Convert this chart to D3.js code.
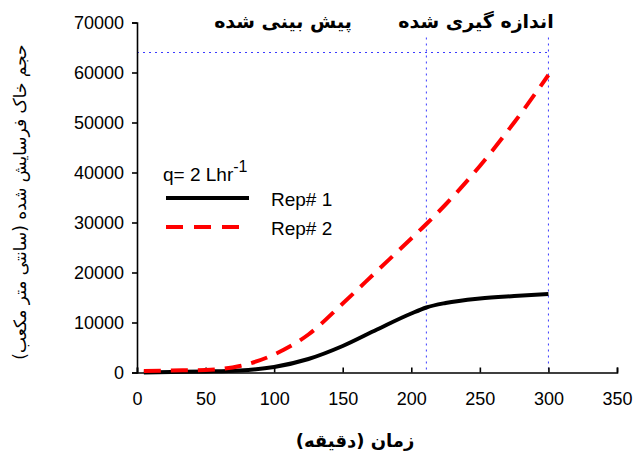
<!DOCTYPE html>
<html>
<head>
<meta charset="utf-8">
<script src="https://cdn.jsdelivr.net/npm/d3@7"></script>
<style>
  body { margin: 0; background: #fff; }
  text { font-family: "Liberation Sans", Arial, sans-serif; }
</style>
</head>
<body>
<svg id="chart" width="640" height="462"></svg>
<script>
"use strict";

// values
var timeMin = [5, 25, 50, 75, 100, 125, 150, 175, 200, 211, 225, 250, 275, 300];
var rep1 = [0, 100, 200, 400, 1100, 2700, 5300, 8600, 11800, 13000, 13900, 14800, 15300, 15700];
var rep2 = [300, 400, 500, 1300, 3600, 7600, 13800, 20300, 26800, 29700, 33600, 41300, 50000, 59500];
var xTicks = [0, 50, 100, 150, 200, 250, 300, 350];
var yTicks = [0, 10000, 20000, 30000, 40000, 50000, 60000, 70000];
var guideX = [211, 300];   // vertical dotted guides
var guideY = 64000;        // horizontal dotted guide

var svg = d3.select("#chart");
var plotLeft = 137, plotRight = 617, plotTop = 22.5, plotBottom = 372.5;

var x = d3.scaleLinear().domain([0, 350]).range([plotLeft, plotRight]);
var y = d3.scaleLinear().domain([0, 70000]).range([plotBottom, plotTop]);

//dotted blue guides
svg.append("line")
	.attr("x1", x(0)).attr("x2", x(300))
	.attr("y1", y(guideY)).attr("y2", y(guideY))
	.style("stroke", "#3a3aff").style("stroke-width", "1px").style("stroke-dasharray", "2,4");
svg.selectAll(".guide")
	.data(guideX)
	.enter()
	.append("line")
	.attr("class", "guide")
	.attr("x1", function(d){ return x(d)}).attr("x2", function(d){ return x(d)})
	.attr("y1", y(67000)).attr("y2", plotBottom)
	.style("stroke", "#3a3aff").style("stroke-width", "1px").style("stroke-dasharray", "2,4");

//axes
var xAxis = svg.append("g")
	.attr("transform", "translate(0," + plotBottom + ")")
	.call(d3.axisBottom(x).tickValues(xTicks).tickSize(-5).tickPadding(16).tickFormat(d3.format("d")));
var yAxis = svg.append("g")
	.attr("transform", "translate(" + plotLeft + ",0)")
	.call(d3.axisLeft(y).tickValues(yTicks).tickSize(5).tickPadding(8).tickFormat(d3.format("d")));
[xAxis, yAxis].forEach(function(g){
	g.select(".domain").style("stroke", "#000").style("stroke-width", "1.6px");
	g.selectAll(".tick line").style("stroke", "#000").style("stroke-width", "1.6px");
	g.selectAll(".tick text").style("font-size", "18px").style("fill", "#000")
		.style("font-family", "'Liberation Sans', Arial, sans-serif");
});
xAxis.selectAll(".tick text").attr("dy", "0.9em");

//curves
var line = d3.line().curve(d3.curveMonotoneX);
var pts1 = timeMin.map(function(t, i){ return [x(t), y(rep1[i])]});
var pts2 = timeMin.map(function(t, i){ return [x(t), y(rep2[i])]});

svg.append("path")
	.attr("d", line(pts1))
	.style("fill", "none").style("stroke", "#000").style("stroke-width", "4px");
svg.append("path")
	.attr("d", line(pts2))
	.style("fill", "none").style("stroke", "#ff0000").style("stroke-width", "4px")
	.style("stroke-dasharray", "17,10");

//legend
var leg = svg.append("text").attr("x", 163).attr("y", 181).style("font-size", "19px");
leg.append("tspan").text("q= 2 Lhr");
leg.append("tspan").attr("dy", -9).style("font-size", "16px").text("-1");

svg.append("line").attr("x1", 166).attr("x2", 249).attr("y1", 198).attr("y2", 198)
	.style("stroke", "#000").style("stroke-width", "4px");
svg.append("line").attr("x1", 166).attr("x2", 240).attr("y1", 227).attr("y2", 227)
	.style("stroke", "#ff0000").style("stroke-width", "4px").style("stroke-dasharray", "17,11");
svg.append("text").attr("x", 271).attr("y", 206).style("font-size", "19px").text("Rep# 1");
svg.append("text").attr("x", 271).attr("y", 235).style("font-size", "19px").text("Rep# 2");

//titles
svg.append("text").attr("x", 283).attr("y", 28).attr("text-anchor", "middle")
	.style("font-size", "19px").style("font-weight", "bold").style("font-family", "'DejaVu Sans', sans-serif")
	.text("پیش بینی شده");
svg.append("text").attr("x", 476).attr("y", 28).attr("text-anchor", "middle")
	.style("font-size", "19px").style("font-weight", "bold").style("font-family", "'DejaVu Sans', sans-serif")
	.text("اندازه گیری شده");

svg.append("text").attr("x", 355).attr("y", 447).attr("text-anchor", "middle")
	.style("font-size", "18px").style("font-weight", "bold").style("font-family", "'DejaVu Sans', sans-serif")
	.text("زمان (دقیقه)");

svg.append("text").attr("transform", "translate(26,202) rotate(-90)").attr("text-anchor", "middle")
	.style("font-size", "17px").style("font-family", "'DejaVu Sans', sans-serif")
	.text("حجم خاک فرسایش شده (سانتی متر مکعب)");
</script>
</body>
</html>
